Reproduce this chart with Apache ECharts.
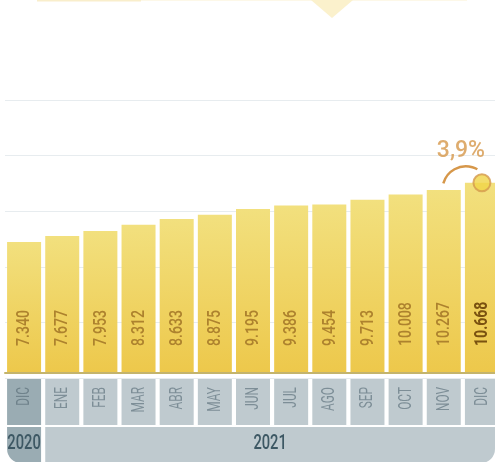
<!DOCTYPE html>
<html lang="es">
<head>
<meta charset="UTF-8">
<title>Evolución mensual</title>
<script src="https://cdn.jsdelivr.net/npm/echarts@6/dist/echarts.min.js"></script>
<style>html,body{margin:0;padding:0;background:#fff;overflow:hidden}</style>
</head>
<body>
<div id="chartmain" style="width:501px;height:462px"></div>
<script>
// datos
var months = ['DIC','ENE','FEB','MAR','ABR','MAY','JUN','JUL','AGO','SEP','OCT','NOV','DIC'];
var values = [7340, 7677, 7953, 8312, 8633, 8875, 9195, 9386, 9454, 9713, 10008, 10267, 10668];
var years = ['2020', '2021'];
var yearSpan = [1, 12];          // meses de cada año
var growthLabel = '3,9%';

function fmt(v) {
    return String(v).replace(/\B(?=(\d{3})+(?!\d))/g, '.');
}

// a qué año pertenece cada mes
var yearOf = [];
for (var y = 0; y < yearSpan.length; y++) {
    for (var k = 0; k < yearSpan[y]; k++) yearOf.push(y);
}

var last = values.length - 1;
var darkGray = '#9aacb3', lightGray = '#bfcacf';

var option = {
    backgroundColor: '#fff',
    animation: false,
    grid: [
        {left: 5, right: 0, top: 100, bottom: 84},
        {left: 5, right: 0, top: 379, height: 46}
    ],
    xAxis: [
        {type: 'category', gridIndex: 0, data: months, z: 5,
         axisLine: {show: true, lineStyle: {color: '#c4b46c', width: 2}},
         axisTick: {show: false}, axisLabel: {show: false}},
        {type: 'category', gridIndex: 1, data: months,
         axisLine: {show: false}, axisTick: {show: false}, axisLabel: {show: false}}
    ],
    yAxis: [
        {type: 'value', gridIndex: 0, min: -300, max: 15320, show: false},
        {type: 'value', gridIndex: 0, min: 0, max: 5, interval: 1,
         axisLine: {show: false}, axisTick: {show: false}, axisLabel: {show: false},
         splitLine: {show: true, lineStyle: {color: '#e7ecef', width: 1}}},
        {type: 'value', gridIndex: 1, min: 0, max: 1, show: false}
    ],
    series: [
        {
            type: 'bar',
            xAxisIndex: 0, yAxisIndex: 0,
            data: values,
            barWidth: 34,
            itemStyle: {
                color: new echarts.graphic.LinearGradient(0, 0, 0, 1, [
                    {offset: 0, color: '#f2e07e'},
                    {offset: 1, color: '#edc84b'}
                ])
            }
        },
        {
            // valores dentro de las barras (texto estrecho)
            type: 'custom',
            xAxisIndex: 0, yAxisIndex: 0,
            silent: true,
            z: 4,
            data: values.map(function (v, i) { return [i, v]; }),
            renderItem: function (params, api) {
                var i = api.value(0);
                var p = api.coord([i, api.value(1)]);
                var cs = params.coordSys;
                var isLast = i === last;
                return {
                    type: 'text',
                    x: p[0] + 0.5,
                    y: cs.y + cs.height - 32,
                    rotation: Math.PI / 2,
                    scaleX: 0.74,
                    style: {
                        text: fmt(api.value(1)),
                        align: 'left',
                        verticalAlign: 'middle',
                        font: (isLast ? 'bold ' : '500 ') + '19px Roboto',
                        fill: isLast ? '#7a5210' : '#ad822e'
                    }
                };
            }
        },
        {
            // bloques grises con los meses
            type: 'custom',
            xAxisIndex: 1, yAxisIndex: 2,
            silent: true,
            data: months.map(function (m, i) { return [i, 1]; }),
            renderItem: function (params, api) {
                var i = api.value(0);
                var top = api.coord([i, 1]);
                var bot = api.coord([i, 0]);
                return {
                    type: 'group',
                    children: [
                        {type: 'rect',
                         shape: {x: top[0] - 17, y: top[1], width: 34, height: bot[1] - top[1]},
                         style: {fill: yearOf[i] === 0 ? darkGray : lightGray}},
                        {type: 'text',
                         x: top[0] + 0.5, y: top[1] + 8,
                         rotation: Math.PI / 2,
                         scaleX: 0.66,
                         style: {
                             text: months[i], align: 'right', verticalAlign: 'middle',
                             font: '18px Roboto', fill: yearOf[i] === 0 ? '#6f828b' : '#7d8e97'
                         }}
                    ]
                };
            }
        },
        {
            type: 'scatter',
            xAxisIndex: 0, yAxisIndex: 0,
            data: [[last, values[last]]],
            symbolSize: 17,
            z: 6,
            itemStyle: {color: '#f0d447', borderColor: '#d49a4e', borderWidth: 2},
            label: {
                show: true,
                position: 'inside',
                offset: [-21, -32],
                formatter: growthLabel,
                fontFamily: 'Roboto',
                fontWeight: 500,
                fontSize: 23,
                color: '#d6974a'
            }
        }
    ]
};

var myChart = echarts.init(document.getElementById('chartmain'));
myChart.setOption(option);

// banda de años y adornos
var g = [];
var start = 0;
for (var y = 0; y < years.length; y++) {
    var x0 = myChart.convertToPixel({xAxisIndex: 1}, start) - 17;
    var x1 = y === years.length - 1 ? 495 : myChart.convertToPixel({xAxisIndex: 1}, start + yearSpan[y] - 1) + 17;
    g.push({
        type: 'rect',
        shape: {x: x0, y: 427, width: x1 - x0, height: 36, r: y === 0 ? [0, 0, 0, 14] : [0, 0, 14, 0]},
        style: {fill: y === 0 ? darkGray : lightGray}
    });
    g.push({
        type: 'text',
        x: (x0 + x1) / 2, y: 444,
        scaleX: 0.7,
        style: {
            text: years[y],
            align: 'center', verticalAlign: 'middle',
            font: '500 21px Roboto', fill: '#3d5864'
        }
    });
    start += yearSpan[y];
}

var pt = myChart.convertToPixel({seriesIndex: 3}, [last, values[last]]);
g.push({
    type: 'arc',
    z: 10,
    shape: {cx: pt[0] - 16, cy: pt[1] + 7, r: 23.5, startAngle: 3.42, endAngle: 5.22},
    style: {stroke: '#d6974a', lineWidth: 2.5, fill: null}
});

// adornos superiores
g.push({type: 'rect', shape: {x: 37, y: 0, width: 430, height: 1}, style: {fill: '#fdf8e8'}});
g.push({type: 'rect', shape: {x: 37, y: 0, width: 104, height: 1.5}, style: {fill: '#f9eecb'}});
g.push({type: 'polygon', shape: {points: [[311, 0], [353, 0], [332, 18]]}, style: {fill: '#fbf1cc'}});

myChart.setOption({graphic: g});
</script>
</body>
</html>
